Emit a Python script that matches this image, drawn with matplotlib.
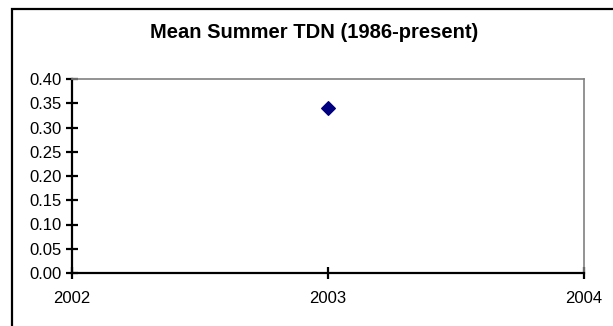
import matplotlib
matplotlib.use("Agg")
import matplotlib.pyplot as plt
from matplotlib.patches import Rectangle

# Data
years = [2003]
mean_tdn = [0.34]
x_ticks = [2002, 2003, 2004]
y_ticks = [0.00, 0.05, 0.10, 0.15, 0.20, 0.25, 0.30, 0.35, 0.40]
title = "Mean Summer TDN (1986-present)"

plt.rcParams['font.family'] = ['Liberation Sans', 'DejaVu Sans']

fig = plt.figure(figsize=(6.13, 3.26), dpi=100)
fig.patch.set_facecolor('white')

# chart frame (extends past the right and bottom edges)
fig.add_artist(Rectangle((11.5 / 613, -0.2), 1.2, (326 - 9) / 326 + 0.2,
                         transform=fig.transFigure, fill=False,
                         edgecolor='black', linewidth=1.6))

ax = fig.add_axes([72 / 613, (326 - 273) / 326, (584 - 72) / 613, (273 - 79) / 326])
ax.scatter(years, mean_tdn, marker='D', s=48, color='#000080', zorder=3,
           clip_on=False)

ax.set_xlim(x_ticks[0], x_ticks[-1])
ax.set_ylim(y_ticks[0], y_ticks[-1])
ax.set_xticks(x_ticks)
ax.set_xticklabels([str(v) for v in x_ticks])
ax.set_yticks(y_ticks)
ax.set_yticklabels([f"{v:.2f}" for v in y_ticks])

for side in ('top', 'right'):
    ax.spines[side].set_color('#808080')
    ax.spines[side].set_linewidth(1.2)
for side in ('left', 'bottom'):
    ax.spines[side].set_color('black')
    ax.spines[side].set_linewidth(1.6)

ax.tick_params(axis='both', direction='inout', length=9, width=1.6,
               color='black', labelsize=12, labelcolor='black')
ax.tick_params(axis='x', pad=8.5)
ax.tick_params(axis='y', pad=3.0)

fig.text(314.5 / 613, 1 - 33 / 326, title, ha='center',
         va='center', fontsize=14.5, fontweight='bold')

fig.savefig("out.png", dpi=100)
